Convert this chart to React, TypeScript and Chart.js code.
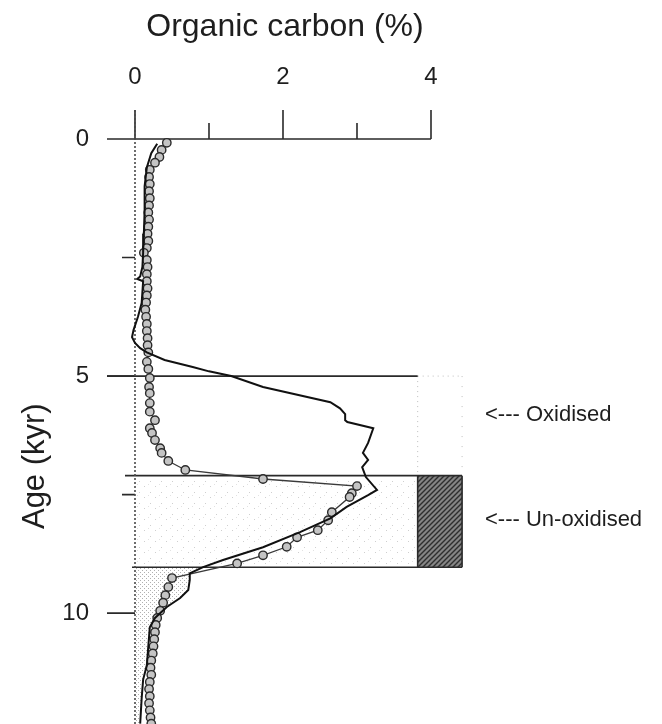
import React, { useEffect, useRef } from 'react';
import { Chart, registerables } from 'chart.js';

Chart.register(...registerables);

// ---- data (age in kyr, organic carbon in %) ----
const markerAge = [0.08, 0.23, 0.38, 0.5, 0.65, 0.8, 0.95, 1.1, 1.25, 1.4, 1.55, 1.7, 1.85, 2.0, 2.15, 2.3, 2.4, 2.55, 2.7, 2.85, 3.0, 3.15, 3.3, 3.45, 3.6, 3.75, 3.9, 4.05, 4.2, 4.35, 4.5, 4.7, 4.85, 5.04, 5.23, 5.36, 5.57, 5.75, 5.93, 6.1, 6.2, 6.35, 6.52, 6.62, 6.79, 6.98, 7.17, 7.32, 7.47, 7.55, 7.87, 8.04, 8.25, 8.4, 8.6, 8.78, 8.95, 9.26, 9.45, 9.62, 9.78, 9.95, 10.1, 10.25, 10.4, 10.55, 10.7, 10.85, 11.0, 11.15, 11.3, 11.45, 11.6, 11.75, 11.9, 12.05, 12.2, 12.33];
const markerToc = [0.43, 0.36, 0.33, 0.27, 0.2, 0.19, 0.2, 0.19, 0.2, 0.19, 0.18, 0.19, 0.18, 0.17, 0.18, 0.16, 0.12, 0.16, 0.17, 0.16, 0.16, 0.17, 0.16, 0.15, 0.14, 0.15, 0.16, 0.16, 0.17, 0.17, 0.18, 0.16, 0.18, 0.2, 0.19, 0.2, 0.2, 0.2, 0.27, 0.2, 0.23, 0.27, 0.34, 0.36, 0.45, 0.68, 1.73, 3.0, 2.93, 2.9, 2.66, 2.61, 2.47, 2.19, 2.05, 1.73, 1.38, 0.5, 0.45, 0.41, 0.38, 0.34, 0.3, 0.28, 0.27, 0.26, 0.25, 0.24, 0.22, 0.21, 0.22, 0.2, 0.19, 0.2, 0.19, 0.2, 0.21, 0.22];

const lineAge = [0.1, 0.3, 0.6, 1.0, 1.5, 2.0, 2.4, 2.7, 2.9, 2.95, 3.0, 3.46, 3.75, 4.03, 4.18, 4.3, 4.41, 4.5, 4.66, 4.81, 4.9, 5.0, 5.23, 5.55, 5.68, 5.8, 5.93, 5.97, 6.1, 6.41, 6.62, 6.77, 6.92, 7.13, 7.4, 7.51, 7.76, 8.0, 8.29, 8.61, 8.88, 9.03, 9.16, 9.3, 9.51, 9.68, 9.87, 10.1, 10.3, 10.7, 11.1, 11.4, 11.8, 12.33];
const lineToc = [0.3, 0.22, 0.16, 0.13, 0.13, 0.12, 0.11, 0.1, 0.07, 0.03, 0.11, 0.09, 0.04, -0.02, -0.04, 0.0, 0.07, 0.16, 0.4, 0.78, 1.0, 1.3, 1.73, 2.64, 2.77, 2.84, 2.84, 2.87, 3.22, 3.15, 3.08, 3.15, 3.07, 3.12, 3.27, 3.15, 2.86, 2.64, 2.23, 1.73, 1.19, 0.92, 0.74, 0.74, 0.72, 0.61, 0.43, 0.27, 0.2, 0.18, 0.16, 0.11, 0.09, 0.07];

const xTickValues = [0, 1, 2, 3, 4];
const xTickLabels = ['0', '', '2', '', '4'];
const yTickValues = [0, 2.5, 5, 7.5, 10];
const yTickLabels = ['0', '', '5', '', '10'];

// zone boundaries (kyr) and box extents (%)
const oxidisedTop = 5;
const unoxidisedTop = 7.1;
const unoxidisedBottom = 9.03;
const boxRight = 3.82;
const hatchRight = 4.42;

const zoneLabels = ['<--- Oxidised', '<--- Un-oxidised'];
const zoneLabelAges = [5.82, 8.04];

const xTitle = 'Organic carbon (%)';
const yTitle = 'Age (kyr)';

const FONT = "'Liberation Sans', Arial, Helvetica, sans-serif";
const INK = '#1e1e1e';

function makePattern(
  ctx: CanvasRenderingContext2D,
  size: number,
  bg: string | null,
  draw: (g: CanvasRenderingContext2D, s: number) => void
) {
  const c = document.createElement('canvas');
  c.width = size;
  c.height = size;
  const g = c.getContext('2d')!;
  if (bg) {
    g.fillStyle = bg;
    g.fillRect(0, 0, size, size);
  }
  draw(g, size);
  return ctx.createPattern(c, 'repeat')!;
}

const overlayPlugin = {
  id: 'overlay',
  beforeDatasetsDraw(chart: any) {
    const { ctx, scales } = chart;
    const x = scales.x;
    const y = scales.y;
    const px = (v: number) => x.getPixelForValue(v);
    const py = (v: number) => y.getPixelForValue(v);
    const x0 = px(0);
    const y0 = py(0);

    ctx.save();

    // sparse stipple in the un-oxidised band
    const sparse = makePattern(ctx, 11, null, (g) => {
      g.fillStyle = '#cfcfcf';
      g.fillRect(1, 2, 1, 1);
      g.fillRect(7, 8, 1, 1);
      g.fillStyle = '#e2e2e2';
      g.fillRect(5, 0, 1, 1);
    });
    ctx.fillStyle = sparse;
    ctx.fillRect(x0, py(unoxidisedTop), px(boxRight) - x0, py(unoxidisedBottom) - py(unoxidisedTop));

    // dense stipple between axis and curve below the band
    const dense = makePattern(ctx, 4, null, (g) => {
      g.fillStyle = '#b0b0b0';
      g.fillRect(0, 0, 1, 1);
      g.fillRect(2, 2, 1, 1);
    });
    ctx.beginPath();
    ctx.moveTo(x0, py(unoxidisedBottom));
    for (let i = 0; i < lineAge.length; i++) {
      if (lineAge[i] >= unoxidisedBottom) ctx.lineTo(px(lineToc[i]), py(lineAge[i]));
    }
    ctx.lineTo(x0, py(lineAge[lineAge.length - 1]));
    ctx.closePath();
    ctx.fillStyle = dense;
    ctx.fill();

    // hatched block
    const hatch = makePattern(ctx, 5, '#858585', (g, s) => {
      g.strokeStyle = '#2e2e2e';
      g.lineWidth = 1.4;
      g.beginPath();
      g.moveTo(-1, s + 1);
      g.lineTo(s + 1, -1);
      g.moveTo(-1, 1);
      g.lineTo(1, -1);
      g.moveTo(s - 1, s + 1);
      g.lineTo(s + 1, s - 1);
      g.stroke();
    });
    ctx.fillStyle = hatch;
    ctx.fillRect(px(boxRight), py(unoxidisedTop), px(hatchRight) - px(boxRight), py(unoxidisedBottom) - py(unoxidisedTop));

    // faint dotted outline of oxidised zone beyond box
    ctx.strokeStyle = '#bdbdbd';
    ctx.lineWidth = 1;
    ctx.setLineDash([1, 4]);
    ctx.beginPath();
    ctx.moveTo(px(boxRight), py(oxidisedTop));
    ctx.lineTo(px(hatchRight), py(oxidisedTop));
    ctx.moveTo(px(boxRight), py(oxidisedTop));
    ctx.lineTo(px(boxRight), py(unoxidisedTop));
    ctx.stroke();
    ctx.setLineDash([1, 9]);
    ctx.beginPath();
    ctx.moveTo(px(hatchRight), py(oxidisedTop));
    ctx.lineTo(px(hatchRight), py(unoxidisedTop));
    ctx.stroke();
    ctx.setLineDash([]);

    // solid box lines
    ctx.strokeStyle = '#2a2a2a';
    ctx.lineWidth = 1.6;
    ctx.beginPath();
    ctx.moveTo(x0 - 28, py(oxidisedTop));
    ctx.lineTo(px(boxRight), py(oxidisedTop));
    ctx.moveTo(x0 - 10, py(unoxidisedTop));
    ctx.lineTo(px(hatchRight), py(unoxidisedTop));
    ctx.moveTo(x0 - 3, py(unoxidisedBottom));
    ctx.lineTo(px(hatchRight), py(unoxidisedBottom));
    ctx.moveTo(px(boxRight), py(unoxidisedTop));
    ctx.lineTo(px(boxRight), py(unoxidisedBottom));
    ctx.moveTo(px(hatchRight), py(unoxidisedTop));
    ctx.lineTo(px(hatchRight), py(unoxidisedBottom));
    ctx.stroke();

    // x axis line and ticks (top)
    ctx.beginPath();
    ctx.moveTo(x0 - 28, y0);
    ctx.lineTo(px(4), y0);
    xTickValues.forEach((v, i) => {
      const len = xTickLabels[i] ? 29 : 16;
      ctx.moveTo(px(v), y0);
      ctx.lineTo(px(v), y0 - len);
    });
    // y ticks
    yTickValues.forEach((v, i) => {
      const len = yTickLabels[i] ? 28 : 13;
      ctx.moveTo(x0, py(v));
      ctx.lineTo(x0 - len, py(v));
    });
    ctx.stroke();

    // y axis line (dotted)
    ctx.strokeStyle = '#4a4a4a';
    ctx.setLineDash([2, 2]);
    ctx.beginPath();
    ctx.moveTo(x0, y0 - 29);
    ctx.lineTo(x0, chart.chartArea.bottom);
    ctx.stroke();
    ctx.setLineDash([]);

    ctx.restore();
  },
  afterDraw(chart: any) {
    const { ctx, scales } = chart;
    const x = scales.x;
    const y = scales.y;
    ctx.save();
    ctx.fillStyle = INK;
    // zone annotations
    ctx.font = `22px ${FONT}`;
    ctx.textAlign = 'left';
    ctx.textBaseline = 'middle';
    zoneLabels.forEach((t, i) => {
      ctx.fillText(t, x.getPixelForValue(4.5) + 17, y.getPixelForValue(zoneLabelAges[i]));
    });
    // x axis title, centred over the "2" tick
    ctx.font = `32px ${FONT}`;
    ctx.textAlign = 'center';
    ctx.fillText(xTitle, x.getPixelForValue(2) + 2, 27);
    // y axis title
    ctx.font = `31px ${FONT}`;
    ctx.translate(35, y.getPixelForValue(6.9));
    ctx.rotate(-Math.PI / 2);
    ctx.fillText(yTitle, 0, 0);
    ctx.restore();
  },
};

export default function App() {
  const canvasRef = useRef<HTMLCanvasElement | null>(null);

  useEffect(() => {
    if (!canvasRef.current) return;
    const chart = new Chart(canvasRef.current, {
      type: 'scatter',
      data: {
        datasets: [
          {
            label: 'Organic carbon (measured)',
            data: markerAge.map((a, i) => ({ x: markerToc[i], y: a })),
            showLine: true,
            borderColor: '#3a3a3a',
            borderWidth: 1.3,
            pointRadius: 4.2,
            pointBackgroundColor: '#c4c4c4',
            pointBorderColor: '#2a2a2a',
            pointBorderWidth: 1.4,
            clip: false,
            order: 2,
          } as any,
          {
            label: 'Organic carbon (model)',
            data: lineAge.map((a, i) => ({ x: lineToc[i], y: a })),
            showLine: true,
            borderColor: '#111111',
            borderWidth: 2,
            pointRadius: 0,
            tension: 0,
            clip: false,
            order: 1,
          } as any,
        ],
      },
      options: {
        animation: false,
        responsive: false,
        maintainAspectRatio: false,
        devicePixelRatio: 1,
        events: [],
        layout: { padding: { left: 62.3, right: 194, top: 63.2, bottom: 0 } },
        plugins: { legend: { display: false }, tooltip: { enabled: false } },
        scales: {
          x: {
            type: 'linear',
            position: 'top',
            min: 0,
            max: 4.5,
            afterBuildTicks: (s: any) => {
              s.ticks = xTickValues.map((v) => ({ value: v }));
            },
            ticks: {
              autoSkip: false,
              maxRotation: 0,
              padding: 0,
              color: INK,
              font: { family: FONT, size: 24 },
              callback: (v: any) => {
                const i = xTickValues.indexOf(Number(v));
                return i >= 0 ? xTickLabels[i] : '';
              },
            },
            grid: { display: false, drawTicks: true, tickLength: 47 },
            border: { display: false },
            title: { display: false },
          },
          y: {
            type: 'linear',
            reverse: true,
            min: 0,
            max: 12.35,
            afterBuildTicks: (s: any) => {
              s.ticks = yTickValues.map((v) => ({ value: v }));
            },
            ticks: {
              autoSkip: false,
              padding: 0,
              color: INK,
              font: { family: FONT, size: 24 },
              callback: (v: any) => {
                const i = yTickValues.indexOf(Number(v));
                return i >= 0 ? yTickLabels[i] : '';
              },
            },
            grid: { display: false, drawTicks: true, tickLength: 46 },
            border: { display: false },
            title: { display: false },
          },
        },
      },
      plugins: [overlayPlugin],
    } as any);
    return () => chart.destroy();
  }, []);

  return (
    <div style={{ position: 'fixed', left: 0, top: 0, width: 662, height: 724, overflow: 'hidden', background: '#fff' }}>
      <canvas ref={canvasRef} width={662} height={739} style={{ display: 'block' }} />
    </div>
  );
}
